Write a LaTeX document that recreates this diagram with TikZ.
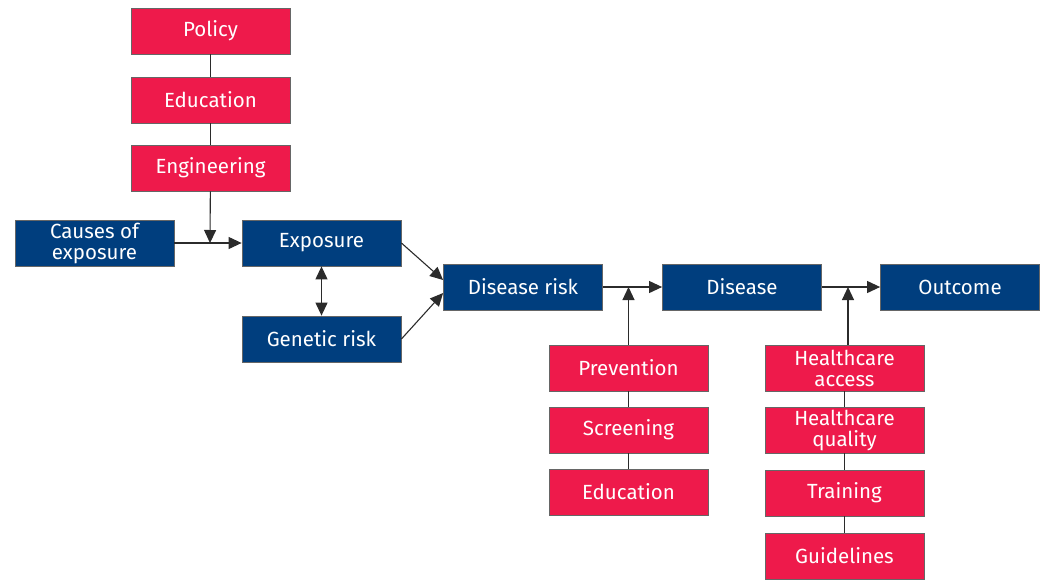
\documentclass[tikz,border=0pt]{standalone}
\usepackage{fontspec}
\setmainfont{Fira Sans}
\usetikzlibrary{arrows.meta}
\definecolor{rbox}{HTML}{EE1A4B}
\definecolor{bbox}{HTML}{003E7E}
\definecolor{lin}{HTML}{2B2B2B}
\tikzset{
  base/.style={draw=black!60, line width=0.8pt, minimum width=159pt, minimum height=46pt, inner sep=0pt, text=white, font=\fontsize{20.5}{21}\selectfont, align=center},
  redbox/.style={base, fill=rbox},
  bluebox/.style={base, fill=bbox},
  conn/.style={draw=lin, line width=1.1pt},
  arr/.style={conn, -{Triangle[length=13pt,width=12pt]}},
  darr/.style={conn, {Triangle[length=13pt,width=12pt]}-{Triangle[length=13pt,width=12pt]}}
}
\begin{document}
\begin{tikzpicture}[x=1pt,y=-1pt]
\useasboundingbox (0,0) rectangle (1044,579);
\node[redbox] (pol) at (210.5,31) {Policy};
\node[redbox] (edu) at (210.5,100) {Education};
\node[redbox] (eng) at (210.5,168) {Engineering};
\node[bluebox] (cau) at (94.5,243) {Causes of\\exposure};
\node[bluebox] (exp) at (321.5,243) {Exposure};
\node[bluebox] (gen) at (321.5,339) {Genetic risk};
\node[bluebox] (dr) at (523,287) {Disease risk};
\node[bluebox] (dis) at (742,287) {Disease};
\node[bluebox] (out) at (960,287) {Outcome};
\node[redbox] (pre) at (628.5,368) {Prevention};
\node[redbox] (scr) at (628.5,430) {Screening};
\node[redbox] (ed2) at (628.5,492) {Education};
\node[redbox] (hca) at (844.5,368) {Healthcare\\access};
\node[redbox] (hcq) at (844.5,430) {Healthcare\\quality};
\node[redbox] (tra) at (844.5,493) {Training};
\node[redbox] (gui) at (844.5,556) {Guidelines};
\coordinate (j1) at (210,243);
\coordinate (j2) at (628.5,287);
\coordinate (j3) at (848,287);
% connectors
\draw[conn] (pol) -- (edu);
\draw[conn] (edu) -- (eng);
\draw[conn] (pre) -- (scr);
\draw[conn] (scr) -- (ed2);
\draw[conn] (hca) -- (hcq);
\draw[conn] (hcq) -- (tra);
\draw[conn] (tra) -- (gui);
\draw[arr] (cau) -- (exp);
\draw[arr] (eng) -- (j1);
\draw[darr] (exp) -- (gen);
\draw[arr] (exp.east) -- ([yshift=7pt]dr.west);
\draw[arr] (gen.east) -- ([yshift=-6pt]dr.west);
\draw[arr] (dr) -- (dis);
\draw[arr] (pre.north) -- (j2);
\draw[arr] (dis) -- (out);
\draw[arr] (hca.north -| j3) -- (j3);
\end{tikzpicture}
\end{document}
